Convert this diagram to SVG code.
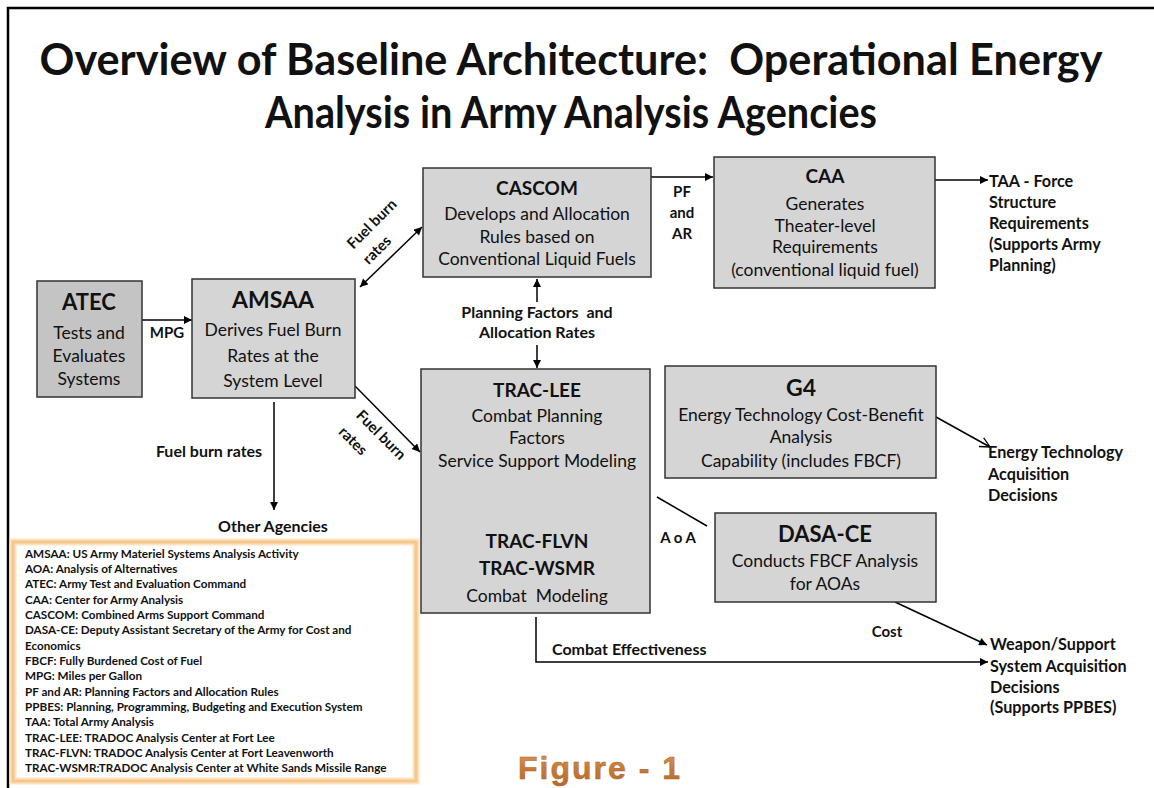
<svg xmlns="http://www.w3.org/2000/svg" width="1154" height="788" viewBox="0 0 1154 788">
<defs>
<marker id="ah" viewBox="0 0 10 10" refX="10" refY="5" markerWidth="9" markerHeight="8" markerUnits="userSpaceOnUse" orient="auto-start-reverse"><path d="M0,0 L10,5 L0,10 z" fill="#000"/></marker>
<marker id="oa" viewBox="0 0 12 12" refX="11" refY="6" markerWidth="12" markerHeight="12" markerUnits="userSpaceOnUse" orient="auto"><path d="M1,1 L11,6 L1,11" fill="none" stroke="#000" stroke-width="1.3"/></marker>
<linearGradient id="fig" x1="0" y1="0" x2="0" y2="1"><stop offset="0" stop-color="#e09a5a"/><stop offset="0.5" stop-color="#c97a36"/><stop offset="1" stop-color="#b86a2a"/></linearGradient>
</defs>
<style>
text{font-family:Lato,"Liberation Sans",Arial,sans-serif;fill:#111}
.t{font-weight:bold;font-size:44px;text-anchor:middle}
.box{fill:#d5d5d5;stroke:#333;stroke-width:1.5}
.dark{fill:#c4c4c4}
.h{font-weight:bold;text-anchor:middle}
.b{font-size:17.5px;text-anchor:middle}
.lb{font-weight:bold;font-size:15px}
.o{font-weight:bold;font-size:16.2px}
.lg{font-weight:bold;font-size:11.7px}
.ln{stroke:#000;stroke-width:1.5;fill:none}
</style>
<rect x="0" y="0" width="1154" height="788" fill="#fff"/>
<path d="M8,788 V8 H1154" fill="none" stroke="#000" stroke-width="2.5"/>
<g id="title">
<text class="t" x="571" y="75" textLength="1063" lengthAdjust="spacingAndGlyphs" xml:space="preserve">Overview of Baseline Architecture:  Operational Energy</text>
<text class="t" x="571" y="128" textLength="612" lengthAdjust="spacingAndGlyphs">Analysis in Army Analysis Agencies</text>
</g>
<g id="connectors">
<line class="ln" x1="142" y1="320" x2="192" y2="320" marker-end="url(#ah)"/>
<line class="ln" x1="360" y1="287" x2="422" y2="227" marker-start="url(#ah)" marker-end="url(#ah)"/>
<line class="ln" x1="355" y1="386" x2="420" y2="452" marker-end="url(#ah)"/>
<line class="ln" x1="274" y1="402" x2="274" y2="510" marker-end="url(#ah)"/>
<line class="ln" x1="651" y1="177" x2="713" y2="177" marker-end="url(#ah)"/>
<line class="ln" x1="935" y1="180" x2="988" y2="180" marker-end="url(#ah)"/>
<line class="ln" x1="537" y1="302" x2="537" y2="279" marker-end="url(#ah)"/>
<line class="ln" x1="537" y1="345" x2="537" y2="368" marker-end="url(#ah)"/>
<line class="ln" x1="537" y1="469" x2="537" y2="532" stroke-dasharray="5,4" marker-start="url(#ah)" marker-end="url(#ah)"/>
<line class="ln" x1="936" y1="417" x2="990" y2="447" marker-end="url(#oa)"/>
<line class="ln" x1="657" y1="497" x2="707" y2="526"/>
<line class="ln" x1="895" y1="602" x2="987" y2="645" marker-end="url(#ah)"/>
<path class="ln" d="M536,617 V662 H988" marker-end="url(#ah)"/>
<text class="lb" x="167" y="338" text-anchor="middle">MPG</text>
<g transform="translate(372,224) rotate(-45)"><text class="lb" x="0" y="5" text-anchor="middle">Fuel burn</text></g>
<g transform="translate(377,250) rotate(-45)"><text class="lb" x="0" y="5" text-anchor="middle">rates</text></g>
<g transform="translate(381,435) rotate(45)"><text class="lb" x="0" y="5" text-anchor="middle">Fuel burn</text></g>
<g transform="translate(353,441) rotate(45)"><text class="lb" x="0" y="5" text-anchor="middle">rates</text></g>
<text class="lb" x="209" y="457" text-anchor="middle" style="font-size:16px">Fuel burn rates</text>
<text class="lb" x="682" y="197" text-anchor="middle">PF</text>
<text class="lb" x="682" y="218" text-anchor="middle">and</text>
<text class="lb" x="682" y="239" text-anchor="middle">AR</text>
<text class="lb" x="537" y="318" text-anchor="middle" xml:space="preserve" style="font-size:16px">Planning Factors  and</text>
<text class="lb" x="537" y="338" text-anchor="middle" style="font-size:16px">Allocation Rates</text>
<text class="lb" x="678" y="543" text-anchor="middle">A o A</text>
<text class="lb" x="887" y="637" text-anchor="middle">Cost</text>
<text class="lb" x="552" y="655" style="font-size:16px">Combat Effectiveness</text>
</g>
<g id="atec">
<rect class="box dark" x="37" y="281" width="105" height="116"/>
<text class="h" x="89" y="310" font-size="22">ATEC</text>
<text class="b" x="89" y="339">Tests and</text>
<text class="b" x="89" y="362">Evaluates</text>
<text class="b" x="89" y="385">Systems</text>
</g>
<g id="amsaa">
<rect class="box" x="192" y="279" width="163" height="119"/>
<text class="h" x="273" y="308" font-size="23">AMSAA</text>
<text class="b" x="273" y="336">Derives Fuel Burn</text>
<text class="b" x="273" y="362">Rates at the</text>
<text class="b" x="273" y="387">System Level</text>
</g>
<g id="cascom">
<rect class="box" x="423" y="168" width="228" height="109"/>
<text class="h" x="537" y="195" font-size="19">CASCOM</text>
<text class="b" x="537" y="220">Develops and Allocation</text>
<text class="b" x="537" y="243">Rules based on</text>
<text class="b" x="537" y="265">Conventional Liquid Fuels</text>
</g>
<g id="caa">
<rect class="box" x="714" y="157" width="221" height="131"/>
<text class="h" x="825" y="183" font-size="19">CAA</text>
<text class="b" x="825" y="210">Generates</text>
<text class="b" x="825" y="232">Theater-level</text>
<text class="b" x="825" y="253">Requirements</text>
<text class="b" x="825" y="276">(conventional liquid fuel)</text>
</g>
<g id="taa">
<text class="o" x="989" y="187">TAA - Force</text>
<text class="o" x="989" y="208">Structure</text>
<text class="o" x="989" y="229">Requirements</text>
<text class="o" x="989" y="250">(Supports Army</text>
<text class="o" x="989" y="271">Planning)</text>
</g>
<g id="trac">
<rect class="box" x="421" y="369" width="229" height="244"/>
<text class="h" x="537" y="397" font-size="19">TRAC-LEE</text>
<text class="b" x="537" y="422">Combat Planning</text>
<text class="b" x="537" y="444">Factors</text>
<text class="b" x="537" y="467">Service Support Modeling</text>
<text class="h" x="537" y="548" font-size="19">TRAC-FLVN</text>
<text class="h" x="537" y="575" font-size="19">TRAC-WSMR</text>
<text class="b" x="537" y="602" xml:space="preserve">Combat  Modeling</text>
</g>
<g id="g4">
<rect class="box" x="665" y="366" width="271" height="112"/>
<text class="h" x="801" y="396" font-size="23">G4</text>
<text class="b" x="801" y="421">Energy Technology Cost-Benefit</text>
<text class="b" x="801" y="443">Analysis</text>
<text class="b" x="801" y="467">Capability (includes FBCF)</text>
</g>
<g id="energy-decisions">
<text class="o" x="988" y="458">Energy Technology</text>
<text class="o" x="988" y="480">Acquisition</text>
<text class="o" x="988" y="501">Decisions</text>
</g>
<g id="dasa">
<rect class="box" x="715" y="513" width="221" height="89"/>
<text class="h" x="825" y="542" font-size="22">DASA-CE</text>
<text class="b" x="825" y="567">Conducts FBCF Analysis</text>
<text class="b" x="825" y="590">for AOAs</text>
</g>
<g id="weapon-decisions">
<text class="o" x="990" y="650">Weapon/Support</text>
<text class="o" x="990" y="672">System Acquisition</text>
<text class="o" x="990" y="693">Decisions</text>
<text class="o" x="990" y="713">(Supports PPBES)</text>
</g>
<g id="other">
<text class="lb" x="273" y="532" text-anchor="middle" style="font-size:16px">Other Agencies</text>
</g>
<g id="legend">
<rect x="13" y="542" width="403" height="239" fill="#fff" stroke="#fde3bf" stroke-width="7"/>
<rect x="13" y="542" width="403" height="239" fill="none" stroke="#f7c68a" stroke-width="3"/>
<text class="lg" x="25" y="558">AMSAA: US Army Materiel Systems Analysis Activity</text>
<text class="lg" x="25" y="573">AOA: Analysis of Alternatives</text>
<text class="lg" x="25" y="588">ATEC: Army Test and Evaluation Command</text>
<text class="lg" x="25" y="604">CAA: Center for Army Analysis</text>
<text class="lg" x="25" y="619">CASCOM: Combined Arms Support Command</text>
<text class="lg" x="25" y="634">DASA-CE: Deputy Assistant Secretary of the Army for Cost and</text>
<text class="lg" x="25" y="650">Economics</text>
<text class="lg" x="25" y="665">FBCF: Fully Burdened Cost of Fuel</text>
<text class="lg" x="25" y="680">MPG: Miles per Gallon</text>
<text class="lg" x="25" y="696">PF and AR: Planning Factors and Allocation Rules</text>
<text class="lg" x="25" y="711">PPBES: Planning, Programming, Budgeting and Execution System</text>
<text class="lg" x="25" y="726">TAA: Total Army Analysis</text>
<text class="lg" x="25" y="742">TRAC-LEE: TRADOC Analysis Center at Fort Lee</text>
<text class="lg" x="25" y="757">TRAC-FLVN: TRADOC Analysis Center at Fort Leavenworth</text>
<text class="lg" x="25" y="772">TRAC-WSMR:TRADOC Analysis Center at White Sands Missile Range</text>
</g>
<g id="figure-label">
<text x="518" y="779" font-size="32" font-weight="bold" textLength="162" lengthAdjust="spacing" style="fill:url(#fig);font-family:'Liberation Sans',Arial,sans-serif" stroke="#a8662e" stroke-width="0.5">Figure - 1</text>
</g>
</svg>
